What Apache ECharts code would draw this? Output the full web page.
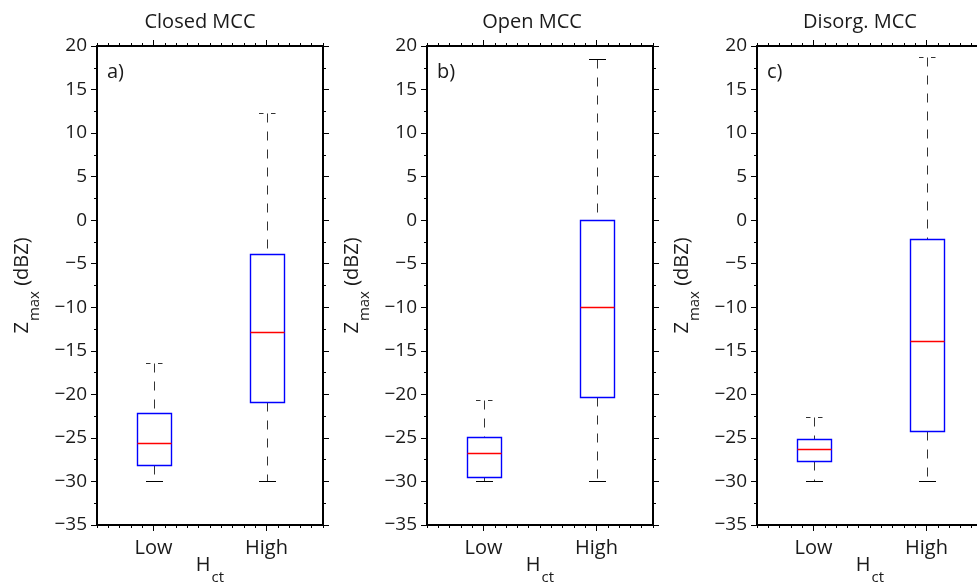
<!DOCTYPE html>
<html><head><meta charset="utf-8">
<script src="https://cdn.jsdelivr.net/npm/echarts@6/dist/echarts.min.js"></script>
<style>html,body{margin:0;padding:0;background:#fff}#c{width:977px;height:583px}</style>
</head><body><div id="c"></div>
<script>
// ---------- data ----------
const categories = ['Low', 'High'];
const panelTitles = ['Closed MCC', 'Open MCC', 'Disorg. MCC'];
const panelLabels = ['a)', 'b)', 'c)'];
const yMin = -35, yMax = 20, yInterval = 5;
// each box: [lower whisker, Q1, median, Q3, upper whisker]
const closedMCC = [[-30, -28.1, -25.6, -22.1, -16.4], [-30, -20.9, -12.8, -3.9, 12.3]];
const openMCC   = [[-30, -29.5, -26.75, -24.9, -20.6], [-30, -20.3, -10.0, 0.0, 18.5]];
const disorgMCC = [[-30, -27.65, -26.3, -25.1, -22.6], [-30, -24.15, -13.9, -2.2, 18.7]];
const panels = [closedMCC, openMCC, disorgMCC];

// ---------- style / layout ----------
const FONT = 'Open Sans';
const TXT = '#1a1a1a';
const gridLefts = [97, 427, 757];
const gridW = 226, gridTop = 46, gridH = 479;
const titleX = [200, 532, 860];
const upperCapDashed = [[true, true], [true, false], [true, true]];

const chart = echarts.init(document.getElementById('c'));
const grids = [], xAxes = [], yAxes = [], series = [], graphics = [];
const fmt = v => String(v).replace('-', '\u2212');
const nameRich = {
  m: {fontSize: 20, fontFamily: FONT, color: TXT, lineHeight: 24, verticalAlign: 'top'},
  s: {fontSize: 15, fontFamily: FONT, color: TXT, lineHeight: 17, padding: [15, 0, 0, 1], verticalAlign: 'top'}
};

panels.forEach((boxes, i) => {
  grids.push({left: gridLefts[i], top: gridTop, width: gridW, height: gridH,
    containLabel: false, outerBoundsMode: 'none'});
  // bottom category axis (labels + major ticks)
  xAxes.push({
    type: 'category', gridIndex: i, data: categories, position: 'bottom',
    axisLine: {show: true, onZero: false, lineStyle: {color: '#000', width: 2}},
    axisTick: {show: true, alignWithLabel: true, length: 6, lineStyle: {color: '#000', width: 1}},
    axisLabel: {fontSize: 20, fontFamily: FONT, color: TXT, margin: 13},
    splitLine: {show: false},
    name: '{m|H}{s|ct}', nameLocation: 'middle', nameGap: 30, nameMoveOverlap: false,
    nameTextStyle: {fontFamily: FONT, color: TXT, rich: nameRich}
  });
  // top category axis (major ticks)
  xAxes.push({
    type: 'category', gridIndex: i, data: categories, position: 'top',
    axisLine: {show: true, onZero: false, lineStyle: {color: '#000', width: 2}},
    axisTick: {show: true, alignWithLabel: true, length: 6, lineStyle: {color: '#000', width: 1}},
    axisLabel: {show: false}, splitLine: {show: false}
  });
  // minor tick helper axes
  ['bottom', 'top'].forEach(pos => {
    xAxes.push({
      type: 'value', gridIndex: i, position: pos, min: 0, max: 20, interval: 1,
      axisLine: {show: false, onZero: false}, axisLabel: {show: false}, splitLine: {show: false},
      axisTick: {show: true, length: 3, lineStyle: {color: '#000', width: 1}}
    });
  });
  // left y axis
  yAxes.push({
    type: 'value', gridIndex: i, position: 'left', min: yMin, max: yMax, interval: yInterval,
    axisLine: {show: true, onZero: false, lineStyle: {color: '#000', width: 2}},
    axisTick: {show: true, length: 6, lineStyle: {color: '#000', width: 1}},
    minorTick: {show: true, splitNumber: 2, length: 3, lineStyle: {color: '#000', width: 1}},
    splitLine: {show: false}, minorSplitLine: {show: false},
    axisLabel: {fontSize: 19, fontFamily: FONT, color: TXT, margin: 10, formatter: fmt},
    name: '{m|Z}{s|max}{m| (dBZ)}', nameLocation: 'middle', nameGap: 61,
    nameTextStyle: {fontFamily: FONT, color: TXT, rich: nameRich}
  });
  // right y axis
  yAxes.push({
    type: 'value', gridIndex: i, position: 'right', min: yMin, max: yMax, interval: yInterval,
    axisLine: {show: true, onZero: false, lineStyle: {color: '#000', width: 2}},
    axisTick: {show: true, length: 6, lineStyle: {color: '#000', width: 1}},
    minorTick: {show: true, splitNumber: 2, length: 3, lineStyle: {color: '#000', width: 1}},
    splitLine: {show: false}, minorSplitLine: {show: false},
    axisLabel: {show: false}
  });

  const data = boxes.map((b, k) => [k].concat(b));
  const capDash = upperCapDashed[i];
  series.push({
    type: 'custom', xAxisIndex: i * 4, yAxisIndex: i * 2, data: data,
    clip: false,
    renderItem: function (params, api) {
      const k = api.value(0);
      const vals = [1, 2, 3, 4, 5].map(d => api.value(d));
      const pts = vals.map(v => api.coord([k, v]));
      const band = api.size([1, 0])[0];
      const bw = Math.round(band * 0.3);
      const cw = Math.round(bw / 2);
      const x = Math.round(pts[2][0]) + 0.5;
      const yv = pts.map(p => Math.round(p[1]) + 0.5);
      const children = [
        {type: 'line', shape: {x1: x, y1: yv[4], x2: x, y2: yv[3]}, style: {stroke: '#333', lineWidth: 1, lineDash: [9, 9]}},
        {type: 'line', shape: {x1: x, y1: yv[1], x2: x, y2: yv[0]}, style: {stroke: '#333', lineWidth: 1, lineDash: [9, 9]}},
        {type: 'line', shape: {x1: x - cw / 2, y1: yv[4], x2: x + cw / 2, y2: yv[4]},
          style: capDash[k] ? {stroke: '#333', lineWidth: 1, lineDash: [4.5, 7.5]} : {stroke: '#000', lineWidth: 1}},
        {type: 'line', shape: {x1: x - cw / 2, y1: yv[0], x2: x + cw / 2, y2: yv[0]}, style: {stroke: '#000', lineWidth: 1}},
        {type: 'rect', shape: {x: x - bw / 2, y: yv[3], width: bw, height: yv[1] - yv[3]},
          style: {stroke: '#0000ff', lineWidth: 1.4, fill: '#fff'}},
        {type: 'line', shape: {x1: x - bw / 2, y1: yv[2], x2: x + bw / 2, y2: yv[2]}, style: {stroke: '#ff0000', lineWidth: 1.4}}
      ];
      return {type: 'group', children: children};
    }
  });

  graphics.push({
    type: 'text', x: titleX[i], y: 22,
    style: {text: panelTitles[i], fontSize: 20, fontFamily: FONT, fill: TXT, align: 'center', verticalAlign: 'middle'}
  });
  graphics.push({
    type: 'text', x: gridLefts[i] + 10, y: 72,
    style: {text: panelLabels[i], fontSize: 20, fontFamily: FONT, fill: TXT, align: 'left', verticalAlign: 'middle'}
  });
});

chart.setOption({
  backgroundColor: '#fff',
  animation: false,
  grid: grids, xAxis: xAxes, yAxis: yAxes, series: series, graphic: graphics
});
</script></body></html>
